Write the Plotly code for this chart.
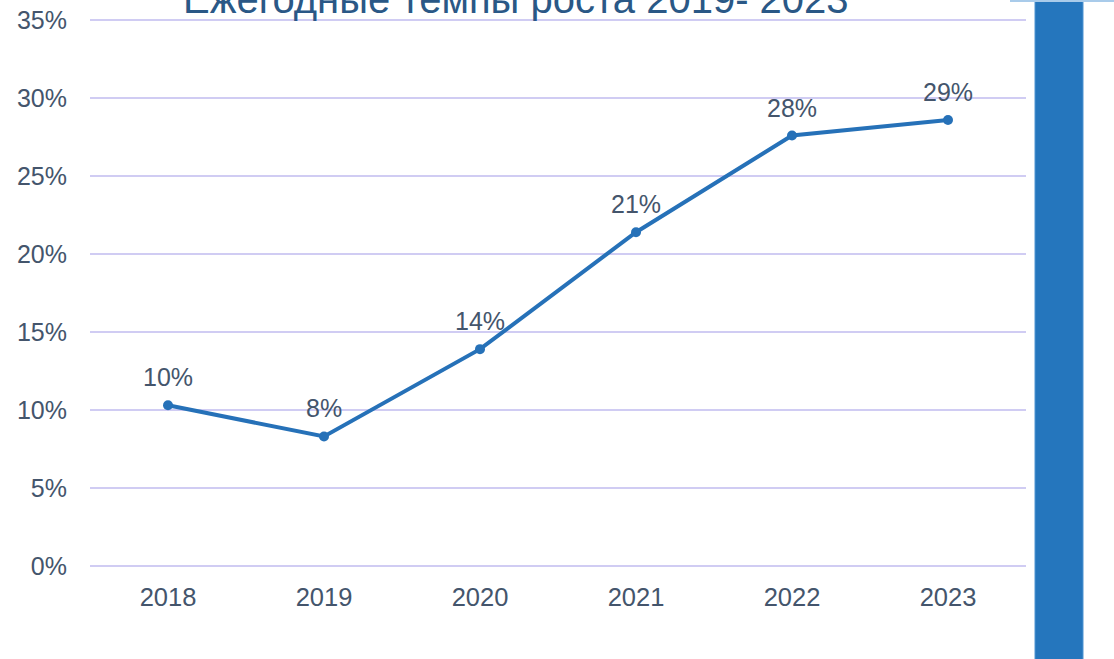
import plotly.graph_objects as go

years = ["2018", "2019", "2020", "2021", "2022", "2023"]
growth = [0.103, 0.083, 0.139, 0.214, 0.276, 0.286]
y_ticks = [0, 0.05, 0.10, 0.15, 0.20, 0.25, 0.30, 0.35]
y_tick_text = ["0%", "5%", "10%", "15%", "20%", "25%", "30%", "35%"]
title_text = "Ежегодные темпы роста 2019- 2023"

line_color = "#2671B8"
label_color = "#44556C"
grid_color = "#D0CCF3"
font_main = "Liberation Sans, Arial, sans-serif"

fig = go.Figure()
fig.add_trace(go.Scatter(
    x=years,
    y=growth,
    mode="lines+markers",
    line=dict(color=line_color, width=4),
    marker=dict(color=line_color, size=10),
    showlegend=False,
))

# Value labels above each point (category index on the x axis)
for i, v in enumerate(growth):
    fig.add_annotation(
        x=i, y=v, text=f"{round(v * 100)}%", showarrow=False,
        xanchor="center", yanchor="middle", yshift=28,
        font=dict(family=font_main, size=25, color=label_color),
    )

# Title, partially above the top edge of the page
fig.add_annotation(
    text=title_text, xref="paper", yref="paper",
    x=(516 - 90) / 936, y=(569 - 23) / 552,
    xanchor="center", yanchor="bottom", showarrow=False,
    font=dict(family=font_main, size=40, color="#2A5886"),
)

# Decorative vertical bar on the right
fig.add_shape(
    type="rect", xref="paper", yref="paper",
    x0=(1035 - 90) / 936, x1=(1083 - 90) / 936,
    y0=(569 - 670) / 552, y1=(569 + 10) / 552,
    fillcolor="#2576BD", line=dict(width=1, color="#4E94D2"), layer="above",
)
fig.add_shape(
    type="line", xref="paper", yref="paper",
    x0=(1010 - 90) / 936, x1=(1114 - 90) / 936,
    y0=(569 - 1) / 552, y1=(569 - 1) / 552,
    line=dict(color="#A9CBEA", width=2),
)

fig.update_layout(
    width=1114, height=659,
    margin=dict(l=90, r=1114 - 1026, t=17, b=90),
    paper_bgcolor="white", plot_bgcolor="white",
    font=dict(family=font_main, color=label_color),
    xaxis=dict(
        type="category", range=[-0.5, 5.5], automargin=False,
        showgrid=False, zeroline=False, showline=False,
        tickfont=dict(family=font_main, size=25.5, color=label_color),
        ticks="", ticklabelstandoff=10,
    ),
    yaxis=dict(
        range=[-0.002, 0.352], tickvals=y_ticks, ticktext=y_tick_text,
        automargin=False,
        showgrid=True, gridcolor=grid_color, gridwidth=2,
        zeroline=True, zerolinecolor=grid_color, zerolinewidth=2,
        showline=False, ticks="",
        tickfont=dict(size=25, color=label_color),
        ticklabelstandoff=22,
    ),
)

fig.write_html("out.html")
